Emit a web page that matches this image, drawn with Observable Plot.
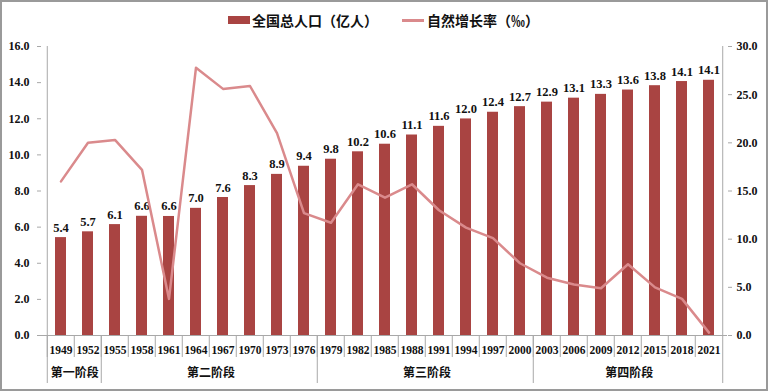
<!DOCTYPE html>
<html>
<head>
<meta charset="utf-8">
<script src="https://cdn.jsdelivr.net/npm/d3@7"></script>
<script src="https://cdn.jsdelivr.net/npm/@observablehq/plot@0.6"></script>
<style>
  html, body { margin: 0; padding: 0; background: #fff; }
  #wrap { position: relative; width: 768px; height: 391px; overflow: hidden; background: #fff; }
  #border { position: absolute; left: 0; top: 0; width: 768px; height: 391px; box-sizing: border-box; border: 2px solid #9a9a9a; pointer-events: none; }
  #legend { position: relative; width: 768px; height: 40px; font-family: "Noto Sans CJK SC", sans-serif; font-weight: bold; font-size: 14px; color: #111; }
  #legend .sw1 { position: absolute; left: 228px; top: 16px; width: 22px; height: 8px; background: #a94442; }
  #legend .sw2 { position: absolute; left: 402px; top: 19px; width: 22px; height: 3px; background: #da8a8c; }
  #legend .t { position: absolute; top: 10px; line-height: 20px; white-space: nowrap; }
  #chart svg { display: block; }
</style>
</head>
<body>
<div id="wrap">
  <div id="legend">
    <div class="sw1"></div><div class="t" style="left:252px">全国总人口（亿人）</div>
    <div class="sw2"></div><div class="t" style="left:427px">自然增长率（‰）</div>
  </div>
  <div id="chart"></div>
  <div id="border"></div>
</div>
<script>
const years = ["1949","1952","1955","1958","1961","1964","1967","1970","1973","1976","1979","1982","1985","1988","1991","1994","1997","2000","2003","2006","2009","2012","2015","2018","2021"];
const population = [5.42, 5.74, 6.14, 6.60, 6.59, 7.04, 7.64, 8.30, 8.92, 9.37, 9.76, 10.17, 10.59, 11.10, 11.58, 11.99, 12.36, 12.67, 12.92, 13.14, 13.35, 13.59, 13.83, 14.06, 14.13];
const growthRate = [16.0, 20.0, 20.3, 17.2, 3.8, 27.8, 25.6, 25.9, 21.0, 12.7, 11.7, 15.7, 14.3, 15.7, 13.0, 11.2, 10.1, 7.5, 6.0, 5.3, 4.9, 7.4, 5.0, 3.8, 0.3];
const leftTicks = [0, 2, 4, 6, 8, 10, 12, 14, 16];
const rightTicks = [0, 5, 10, 15, 20, 25, 30];
const groupNames = ["第一阶段", "第二阶段", "第三阶段", "第四阶段"];
const groupFirst = ["1949", "1955", "1979", "2003"];
const groupSize = [2, 8, 8, 7];

const barColor = "#a94442";
const lineColor = "#da8a8c";
const axisColor = "#a8a8a8";

const W = 768, H = 351, ml = 41, mr = 41, mt = 6, mb = 56;
const step = (W - ml - mr) / years.length;
const k = 16 / 30; // right axis (0–30) mapped onto left axis (0–16)
const fmt = d3.format(".1f");

const data = years.map((y, i) => ({year: y, pop: population[i], rate: growthRate[i]}));

const groupLabelMarks = groupNames.map((name, i) =>
  Plot.axisX({ticks: [groupFirst[i]], tickSize: 0, tickPadding: 33, dx: (groupSize[i] - 1) / 2 * step,
    tickFormat: () => name, fill: "#111", fontSize: 12, fontWeight: "bold",
    fontFamily: "'Noto Sans CJK SC', sans-serif", label: null}));

const chart = Plot.plot({
  width: W, height: H,
  marginLeft: ml, marginRight: mr, marginTop: mt, marginBottom: mb,
  style: {fontFamily: "'Liberation Serif', serif", fontSize: "12px", background: "transparent", overflow: "visible"},
  x: {type: "band", domain: years, paddingInner: 0.6, paddingOuter: 0.3, axis: null, label: null},
  y: {domain: [0, 16], axis: null, label: null},
  marks: [
    Plot.barY(data, {x: "year", y: "pop", fill: barColor}),
    Plot.text(data, {x: "year", y: "pop", text: d => fmt(d.pop), lineAnchor: "bottom", dy: -6,
      fontSize: 12.5, fontWeight: "bold", fill: "#111"}),
    Plot.line(data, {x: "year", y: d => d.rate * k, stroke: lineColor, strokeWidth: 2.5}),
    // axis lines
    Plot.ruleY([0], {stroke: axisColor}),
    Plot.ruleX([years[0]], {dx: -step / 2, stroke: axisColor}),
    Plot.ruleX([years[years.length - 1]], {dx: step / 2, stroke: axisColor}),
    // left axis
    Plot.axisY({ticks: leftTicks, tickFormat: fmt, tickSize: 4, tickPadding: 8, label: null,
      stroke: axisColor, fill: "#111", fontSize: 12, fontWeight: "bold"}),
    // right axis
    Plot.axisY({anchor: "right", ticks: rightTicks.map(t => t * k), tickFormat: d => fmt(d / k), label: null,
      tickSize: 4, tickPadding: 5, stroke: axisColor, fill: "#111", fontSize: 12, fontWeight: "bold"}),
    // category separators
    Plot.axisX({ticks: years, tickSize: 22, dx: -step / 2, tickFormat: () => "", stroke: axisColor, label: null}),
    Plot.axisX({ticks: groupFirst, tickSize: 48, dx: -step / 2, tickFormat: () => "", stroke: axisColor, label: null}),
    Plot.axisX({ticks: [years[years.length - 1]], tickSize: 48, dx: step / 2, tickFormat: () => "", stroke: axisColor, label: null}),
    // year labels
    Plot.axisX({ticks: years, tickSize: 0, tickPadding: 10, fill: "#111", fontSize: 11.5, fontWeight: "bold", label: null}),
    // group labels
    ...groupLabelMarks
  ]
});
document.getElementById("chart").appendChild(chart);
</script>
</body>
</html>
